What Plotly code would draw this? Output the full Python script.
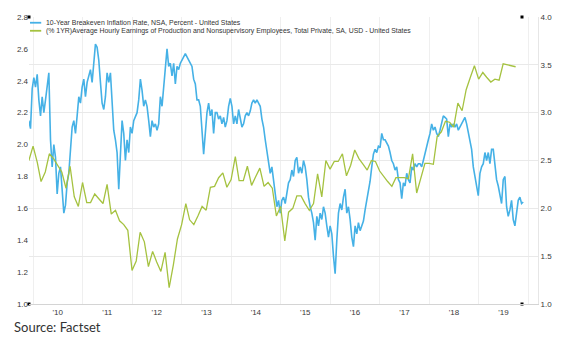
import pandas as pd
import plotly.graph_objects as go

# 10-Year Breakeven Inflation Rate (left axis), sampled ~every 12 days
breakeven_start = "2009-12-01"
breakeven_end = "2019-11-26"
breakeven = [
    2.15, 2.10, 2.35, 2.42, 2.36, 2.44, 2.28,
    2.18, 2.30, 2.20, 2.28, 2.36, 2.45, 2.03, 1.86, 2.00, 1.92,
    1.69, 1.82, 1.86, 1.72, 1.57, 1.62, 1.76, 1.82, 1.97, 2.11,
    2.15, 2.07, 2.18, 2.30, 2.26, 2.36, 2.41, 2.30, 2.39, 2.43,
    2.47, 2.39, 2.53, 2.63, 2.61, 2.53, 2.39, 2.26, 2.22, 2.30,
    2.45, 2.39, 2.45, 2.28, 2.09, 2.03, 1.95, 1.72, 1.97, 2.15,
    2.07, 1.90, 2.03, 1.95, 2.11, 2.07, 2.15, 2.18, 2.20, 2.28,
    2.41, 2.34, 2.24, 2.28, 2.24, 2.15, 2.05, 2.15, 2.11, 2.13,
    2.09, 2.13, 2.30, 2.24, 2.36, 2.47, 2.60, 2.49, 2.51, 2.43,
    2.51, 2.38, 2.49, 2.47, 2.51, 2.53, 2.55, 2.57, 2.55, 2.53,
    2.51, 2.49, 2.41, 2.38, 2.28, 2.28, 2.24, 2.05, 1.94, 2.07,
    2.20, 2.26, 2.18, 2.22, 2.07, 2.20, 2.20, 2.16, 2.18, 2.13,
    2.17, 2.11, 2.15, 2.24, 2.29, 2.24, 2.13, 2.18, 2.13, 2.22,
    2.16, 2.11, 2.13, 2.18, 2.20, 2.18, 2.21, 2.26, 2.28, 2.26,
    2.28, 2.26, 2.24, 2.16, 2.11, 2.03, 1.95, 1.90, 1.82, 1.86,
    1.78, 1.69, 1.61, 1.65, 1.57, 1.65, 1.67, 1.63, 1.69, 1.76,
    1.78, 1.84, 1.80, 1.90, 1.92, 1.82, 1.86, 1.82, 1.90, 1.86,
    1.78, 1.67, 1.61, 1.57, 1.51, 1.40, 1.55, 1.49, 1.57, 1.53,
    1.61, 1.57, 1.49, 1.42, 1.49, 1.44, 1.30, 1.19, 1.40, 1.57,
    1.63, 1.59, 1.67, 1.72, 1.57, 1.61, 1.53, 1.42, 1.36, 1.49,
    1.44, 1.51, 1.46, 1.49, 1.52, 1.59, 1.65, 1.69, 1.77, 1.86,
    1.94, 1.97, 1.95, 1.99, 1.98, 2.07, 2.03, 2.03, 2.01, 1.99,
    1.95, 1.90, 1.88, 1.84, 1.86, 1.78, 1.76, 1.66, 1.76, 1.74,
    1.82, 1.78, 1.76, 1.86, 1.84, 1.88, 1.86, 1.88, 1.88, 1.86,
    1.90, 1.95, 1.99, 2.03, 2.07, 2.13, 2.09, 2.11, 2.07, 2.05,
    2.09, 2.13, 2.18, 2.17, 2.16, 2.05, 2.13, 2.11, 2.13, 2.11,
    2.13, 2.09, 2.11, 2.13, 2.15, 2.17, 2.13, 2.07, 2.03, 1.97,
    1.86, 1.80, 1.74, 1.68, 1.82, 1.86, 1.88, 1.95, 1.90, 1.95,
    1.88, 1.97, 1.97, 1.88, 1.78, 1.74, 1.69, 1.63, 1.78, 1.80,
    1.61, 1.55, 1.59, 1.65, 1.53, 1.49, 1.57, 1.65, 1.67, 1.63, 1.64,
]

# (% 1YR) Average Hourly Earnings (right axis), monthly from Dec 2009
earnings_start = "2009-12-01"
earnings = [
    2.50, 2.65, 2.48, 2.28, 2.38, 2.57, 2.52, 2.45, 2.38, 2.21, 2.44, 2.12,
    2.02, 2.27, 2.06, 2.06, 2.15, 2.10, 2.05, 2.25, 1.94, 1.98,
    1.87, 1.83, 1.77, 1.35, 1.45, 1.75, 1.65, 1.39, 1.55, 1.44,
    1.34, 1.54, 1.17, 1.41, 1.68, 1.83, 2.05, 1.88, 1.83, 1.92,
    2.02, 1.98, 2.22, 2.23, 2.32, 2.37, 2.22, 2.30, 2.54, 2.29,
    2.29, 2.44, 2.24, 2.33, 2.42, 2.23, 2.27, 2.21, 1.92, 2.02,
    1.66, 1.96, 2.00, 2.13, 2.13, 2.05, 1.98, 2.05, 2.36, 2.12,
    2.50, 2.41, 2.49, 2.49, 2.57, 2.34, 2.45, 2.61, 2.52, 2.46,
    2.40, 2.50, 2.49, 2.39, 2.33, 2.28, 2.23, 2.32, 2.32, 2.32,
    2.31, 2.57, 2.16, 2.31, 2.47, 2.47, 2.46, 2.75, 2.80, 2.91,
    2.90, 2.85, 3.10, 3.02, 3.24, 3.37, 3.49, 3.35, 3.42, 3.37,
    3.32, 3.35, 3.34, 3.51, 3.50, 3.49, 3.48,
]

name_breakeven = "10-Year Breakeven Inflation Rate, NSA, Percent - United States"
name_earnings = ("(% 1YR)Average Hourly Earnings of Production and Nonsupervisory "
                 "Employees, Total Private, SA, USD - United States")

x_range = ["2009-12-02", "2020-03-14"]
corner_dates = ["2009-12-02", "2009-12-02", "2019-11-17", "2019-11-17"]
corner_vals = [1.0, 4.0, 1.0, 4.0]

BLUE = "#45B1E6"
GREEN = "#A5C240"
TICK_FONT = dict(family="Liberation Sans, Arial, sans-serif", size=8, color="#3a3a3a")

be_dates = pd.date_range(breakeven_start, breakeven_end, periods=len(breakeven))
er_dates = pd.date_range(earnings_start, periods=len(earnings), freq="MS")

fig = go.Figure()
fig.add_trace(go.Scatter(x=be_dates, y=breakeven, mode="lines", name=name_breakeven,
                         line=dict(color=BLUE, width=1.6), yaxis="y", showlegend=False))
fig.add_trace(go.Scatter(x=er_dates, y=earnings, mode="lines", name=name_earnings,
                         line=dict(color=GREEN, width=1.3), yaxis="y2", showlegend=False))
fig.add_trace(go.Scatter(x=corner_dates, y=corner_vals, mode="markers", yaxis="y2",
                         marker=dict(symbol="square", size=3, color="black"),
                         cliponaxis=False, showlegend=False, hoverinfo="skip"))

fig.update_layout(
    width=576, height=353,
    margin=dict(l=29, r=38, t=17, b=49),
    paper_bgcolor="white", plot_bgcolor="white",
    xaxis=dict(type="date", range=x_range, dtick="M12", tick0="2010-01-01",
               ticklabelmode="period", tickformat="'%y", showgrid=True,
               gridcolor="#efefef", gridwidth=1, showline=True, linecolor="#d4d4d4",
               linewidth=1, ticks="", tickfont=TICK_FONT, zeroline=False),
    yaxis=dict(range=[1.0, 2.8], dtick=0.2, tick0=1.0, tickformat=".1f",
               showgrid=False, zeroline=False, ticks="", tickfont=TICK_FONT),
    yaxis2=dict(range=[1.0, 4.0], dtick=0.5, tick0=1.0, tickformat=".1f",
                overlaying="y", side="right", showgrid=True, gridcolor="#e9e9e9",
                gridwidth=1, zeroline=False, ticks="", tickfont=TICK_FONT,
                showline=True, linecolor="#e6e6e6", linewidth=1),
)

# legend drawn inside the plot at top-left
leg_font = dict(family="Liberation Sans, Arial, sans-serif", size=6.9, color="#333333")
for yv, txt, col in [(0.980, name_breakeven, BLUE), (0.952, name_earnings, GREEN)]:
    fig.add_shape(type="line", xref="paper", yref="paper", x0=0.002, x1=0.024,
                  y0=yv, y1=yv, line=dict(color=col, width=1.8))
    fig.add_annotation(xref="paper", yref="paper", x=0.029, y=yv, text=txt,
                       showarrow=False, xanchor="left", yanchor="middle", font=leg_font)

fig.add_annotation(xref="paper", yref="paper", x=-0.034, y=-0.080,
                   text="Source: Factset", showarrow=False, xanchor="left",
                   yanchor="middle",
                   font=dict(family="Lato, sans-serif", size=13, color="#333333"))

fig.write_html("out.html")
